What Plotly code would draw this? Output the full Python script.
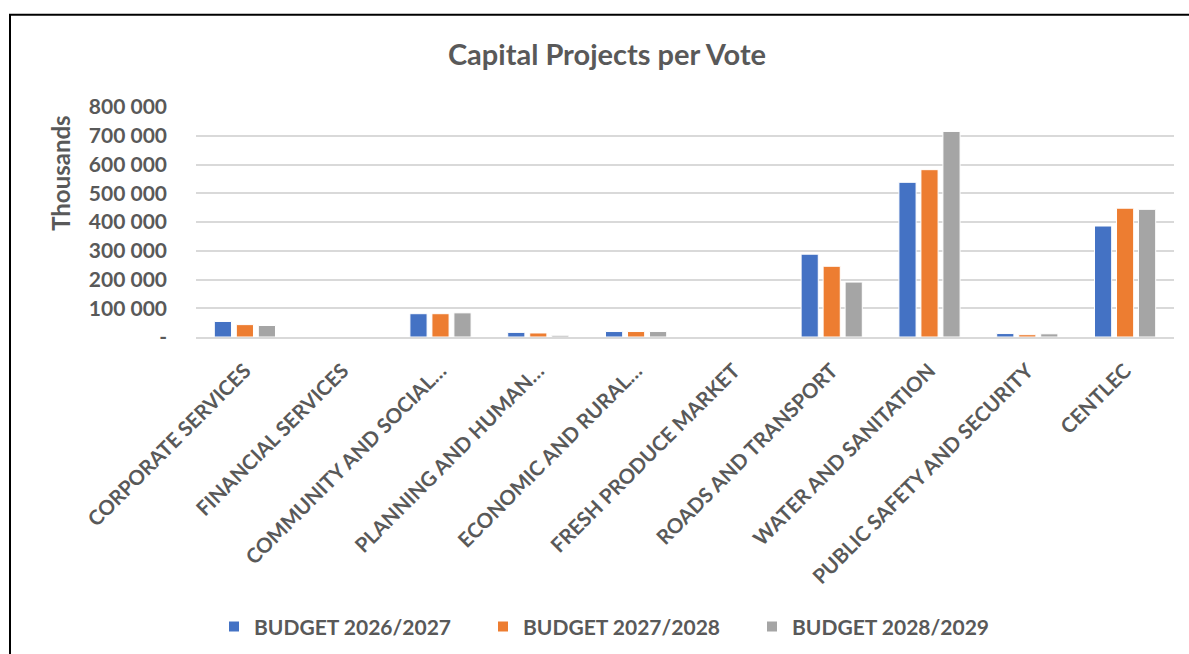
import plotly.graph_objects as go

categories = ["CORPORATE SERVICES", "FINANCIAL SERVICES", "COMMUNITY AND SOCIAL…",
              "PLANNING AND HUMAN…", "ECONOMIC AND RURAL…", "FRESH PRODUCE MARKET",
              "ROADS AND TRANSPORT", "WATER AND SANITATION",
              "PUBLIC SAFETY AND SECURITY", "CENTLEC"]
budget_2026_2027 = [54000, 0, 81000, 16000, 19000, 0, 288000, 538000, 12000, 386000]
budget_2027_2028 = [43000, 0, 81000, 14000, 19000, 0, 246000, 582000, 8000, 448000]
budget_2028_2029 = [40000, 0, 84000, 6000, 19000, 0, 191000, 715000, 11000, 444000]
series_names = ["BUDGET 2026/2027", "BUDGET 2027/2028", "BUDGET 2028/2029"]
colors = ["#4472C4", "#ED7D31", "#A5A5A5"]
y_tickvals = [0, 100000, 200000, 300000, 400000, 500000, 600000, 700000, 800000]
y_ticktext = ["-", "100 000", "200 000", "300 000", "400 000", "500 000",
              "600 000", "700 000", "800 000"]

TXT = "#595959"
FONT = "Lato"

fig = go.Figure()
for name, vals, col in zip(series_names, [budget_2026_2027, budget_2027_2028, budget_2028_2029], colors):
    fig.add_trace(go.Bar(x=categories, y=vals, name="<b>" + name + "</b>", marker_color=col,
                         marker_line_color="white", marker_line_width=1))

W, H = 1189, 654
L, R, T, B = 196, 1174, 107, 337.5

def px(x):
    return (x - L) / (R - L)

def py(y):
    return (B - y) / (B - T)

fig.update_layout(
    width=W, height=H,
    margin=dict(l=L, r=W - R, t=T, b=H - B, pad=0, autoexpand=False),
    paper_bgcolor="white", plot_bgcolor="white",
    barmode="group", bargap=0.325, bargroupgap=0.22,
    title=dict(text="<b>Capital Projects per Vote</b>", x=607 / W, xanchor="center", xref="container",
               y=1 - 55 / H, yanchor="middle", yref="container",
               font=dict(family=FONT, size=29, color=TXT)),
    font=dict(family=FONT, color=TXT),
    showlegend=True,
    legend=dict(orientation="h", x=px(214), xanchor="left", y=py(628), yanchor="middle",
                font=dict(family=FONT, size=21, color=TXT),
                entrywidth=224, entrywidthmode="pixels", traceorder="normal",
                itemsizing="constant"),
    xaxis=dict(tickangle=-45, tickfont=dict(family=FONT, size=20.5, color=TXT),
               showgrid=False, showline=True, linecolor="#D9D9D9", linewidth=1.5,
               ticks="", tickprefix="<b>", ticksuffix="</b>", ticklabelstandoff=12,
               automargin=False),
    yaxis=dict(range=[0, 800000], tickvals=y_tickvals, ticktext=["<b>" + t + "</b>" for t in y_ticktext],
               tickfont=dict(family=FONT, size=21, color=TXT),
               gridcolor="#D9D9D9", gridwidth=1.5, zeroline=False, ticks="",
               ticklabelstandoff=28, automargin=False),
    annotations=[
        dict(text="<b>Thousands</b>", textangle=-90, xref="paper", yref="paper",
             x=px(61), y=py(174), xanchor="center", yanchor="middle", showarrow=False,
             font=dict(family=FONT, size=24, color=TXT)),
    ],
    shapes=[
        dict(type="line", xref="paper", yref="paper", x0=px(10), x1=px(10), y0=py(14.5), y1=py(660),
             line=dict(color="black", width=2)),
        dict(type="line", xref="paper", yref="paper", x0=px(9), x1=px(1195), y0=py(14.5), y1=py(14.5),
             line=dict(color="black", width=2)),
    ],
)

fig.write_html("out.html")
